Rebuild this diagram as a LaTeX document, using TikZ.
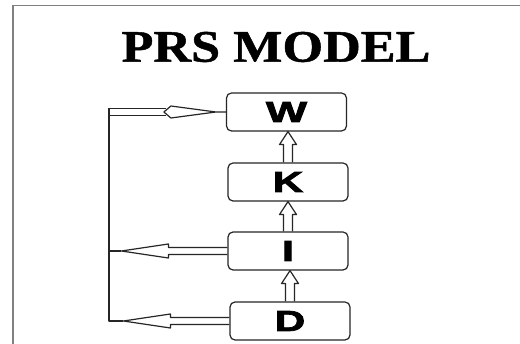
\documentclass[tikz,border=0pt]{standalone}
\usepackage{fontspec}
\setmainfont{Liberation Serif}
\newfontfamily\titlefont[FakeBold=1]{Liberation Serif Bold}
\newfontfamily\boxfont[FakeBold=2.5]{Liberation Sans Bold}
\usetikzlibrary{calc}
\begin{document}
\begin{tikzpicture}[x=1pt,y=-1pt,
  frameln/.style={draw=black!50,line width=1.6pt},
  ln/.style={draw=black!85,line width=1.2pt,line join=round},
  kbox/.style={draw=black!85,line width=1.2pt,rounded corners=5pt,minimum width=120pt,minimum height=38pt,inner sep=0pt,font=\boxfont\fontsize{29}{29}\selectfont},
  title/.style={font=\titlefont\fontsize{45}{45}\selectfont,inner sep=0pt}]
\useasboundingbox[fill=white] (0,0) rectangle (520,344);
% frame
\draw[frameln] (13,344) -- (13,5.5) -- (520,5.5);
% title
\node[title] (t) at (276,47) {\scalebox{1.16}[1]{PRS MODEL}};
% boxes
\node[kbox] (W) at (286.5,112) {\scalebox{1.5}[1]{W}};
\node[kbox] (K) at (288,182) {\scalebox{1.45}[1]{K}};
\node[kbox] (I) at (288,251) {\scalebox{1.45}[1]{I}};
\node[kbox] (D) at (290,321) {\scalebox{1.45}[1]{D}};
% vertical up arrows
\foreach \a/\b in {K/W,I/K,D/I}{
  \draw[ln] ($(\a.north)+(-4.5,0)$) -- ($(\a.north |- \b.south)+(-4.5,13)$) -- ($(\a.north |- \b.south)+(-8.5,13)$)
    -- ($(\a.north |- \b.south)$) -- ($(\a.north |- \b.south)+(8.5,13)$) -- ($(\a.north |- \b.south)+(4.5,13)$) -- ($(\a.north)+(4.5,0)$);
}
% left arrows from I and D
\foreach \n in {I,D}{
  \draw[ln] ($(\n.west)+(0,-3.5)$) -- ($(\n.west)+(-59,-3.5)$) -- ($(\n.west)+(-59,-7)$) -- ($(\n.west)+(-106,0)$)
    -- ($(\n.west)+(-59,7)$) -- ($(\n.west)+(-59,3.5)$) -- ($(\n.west)+(0,3.5)$);
  \coordinate (\n tip) at ($(\n.west)+(-106,0)$);
}
% arrow from W
\coordinate (Wtip) at ($(W.west)+(-62,0)$);
\draw[ln] (W.west) -- ($(W.west)+(-10,0)$) -- ($(W.west)+(-55,-6)$) -- (Wtip) -- ($(W.west)+(-55,6)$) -- ($(W.west)+(-10,0)$);
\draw[ln] ($(Wtip)+(2,-3.5)$) -- ($(W.west)+(-117,-3.5)$) coordinate (busT);
\draw[ln] ($(Wtip)+(2,3.5)$) -- ($(W.west)+(-117,3.5)$);
% bus
\coordinate (busB) at (busT |- Dtip);
\draw[ln] (busT) -- (busB) -- (Dtip);
\draw[ln] (busT |- Itip) -- (Itip);
\end{tikzpicture}
\end{document}
